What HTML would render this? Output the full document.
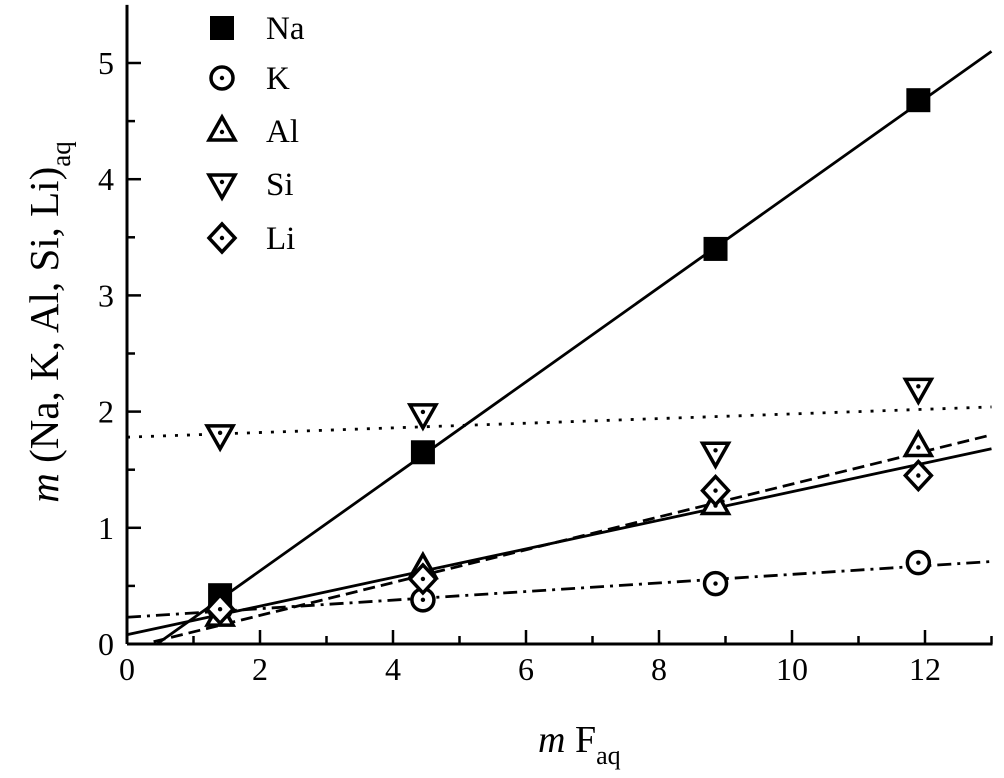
<!DOCTYPE html>
<html><head><meta charset="utf-8"><style>
body{margin:0;background:#fff}
svg{display:block;font-family:"Liberation Serif",serif}
</style></head><body>
<svg id="chart" width="1004" height="778"></svg>
<script>
const xTicks=[0,2,4,6,8,10,12];
const yTicks=[0,1,2,3,4,5];
const xs=[1.4,4.45,8.85,11.9];
const naVals=[0.42,1.65,3.4,4.68];
const kVals=[0.3,0.38,0.52,0.7];
const alVals=[0.24,0.65,1.2,1.7];
const siVals=[1.8,1.98,1.65,2.2];
const liVals=[0.3,0.56,1.32,1.45];
const naFit=[0.45,0,13,5.1];
const kFit=[0,0.23,13,0.71];
const alFit=[0,0.08,13,1.68];
const siFit=[0,1.78,13,2.04];
const liFit=[0.4,0.02,13,1.8];

const NS="http://www.w3.org/2000/svg";
const svg=document.getElementById('chart');
const X0=127,XU=66.5,Y0=644,YU=116.2,XMAX=13,YTOP=5.5;
const sx=v=>X0+v*XU, sy=v=>Y0-v*YU;
function mk(tag,a,p){const e=document.createElementNS(NS,tag);for(const k in a)e.setAttribute(k,a[k]);(p||svg).appendChild(e);return e;}
function txt(s,a,p){const e=mk('text',a,p);e.textContent=s;return e;}

const frame=mk('g',{});


mk('line',{x1:X0,y1:Y0,x2:sx(XMAX)+1,y2:Y0,stroke:'#000','stroke-width':3},frame);
mk('line',{x1:X0,y1:Y0,x2:X0,y2:sy(YTOP),stroke:'#000','stroke-width':3},frame);
for(let v=0;v<=XMAX;v++){const maj=v%2==0;mk('line',{x1:sx(v),y1:Y0,x2:sx(v),y2:Y0-(maj?14:8),stroke:'#000','stroke-width':2.5},frame);}
for(let v=0;v<=5;v+=0.5){const maj=Number.isInteger(v);mk('line',{x1:X0,y1:sy(v),x2:X0+(maj?14:8),y2:sy(v),stroke:'#000','stroke-width':2.5},frame);}
xTicks.forEach(v=>{const t=txt(String(v),{x:sx(v),y:Y0+36,'font-size':32,'text-anchor':'middle'});});
yTicks.forEach(v=>{const t=txt(String(v),{x:X0-13,y:sy(v)+11,'font-size':32,'text-anchor':'end'});});

const xt=mk('text',{x:538,y:752,'font-size':38});


xt.innerHTML='<tspan font-style="italic">m</tspan> F<tspan font-size="26" dy="12">aq</tspan>';
const yt=mk('text',{x:0,y:0,'font-size':41,transform:'translate(58,322) rotate(-90)','text-anchor':'middle'});


yt.innerHTML='<tspan font-style="italic">m</tspan> (Na, K, Al, Si, Li)<tspan font-size="27" dy="12">aq</tspan>';

function fit(f,dash,name){const l=mk('line',{x1:sx(f[0]),y1:sy(f[1]),x2:sx(f[2]),y2:sy(f[3]),stroke:'#000','stroke-width':2.8,'stroke-dasharray':dash||'none'});
}
fit(naFit,'','na-fit-line');fit(alFit,'','al-fit-line');fit(kFit,'14 6 3 6','k-fit-line');fit(siFit,'3 9','si-fit-line');fit(liFit,'12 6','li-fit-line');

function marker(type,x,y,p){const g=mk('g',{},p);const s={fill:'#fff',stroke:'#000','stroke-width':3.5};
if(type=='sq')mk('rect',{x:x-12,y:y-12,width:24,height:24,fill:'#000'},g);
else{
if(type=='circ')mk('circle',Object.assign({cx:x,cy:y,r:11},s),g);
if(type=='up')mk('polygon',Object.assign({points:`${x},${y-14} ${x+13},${y+9} ${x-13},${y+9}`},s),g);
if(type=='down')mk('polygon',Object.assign({points:`${x},${y+14} ${x+13},${y-9} ${x-13},${y-9}`},s),g);
if(type=='dia')mk('polygon',Object.assign({points:`${x},${y-14} ${x+13},${y} ${x},${y+14} ${x-13},${y}`},s),g);
mk('circle',{cx:x,cy:type=='up'?y+1:type=='down'?y-2:y,r:2.2,fill:'#000'},g);}
return g;}
const series=[['sq',naVals,'na'],['circ',kVals,'k'],['up',alVals,'al'],['down',siVals,'si'],['dia',liVals,'li']];
series.forEach(([t,vals,n])=>{vals.forEach((v,i)=>{const g=marker(t,sx(xs[i]),sy(v));
});});

const names=['Na','K','Al','Si','Li'];const ly=[28,78,131,184,238];
series.forEach(([t],i)=>{const g=mk('g',{});


marker(t,222,ly[i],g);txt(names[i],{x:266,y:ly[i]+11,'font-size':33},g);});
</script>
</body></html>
